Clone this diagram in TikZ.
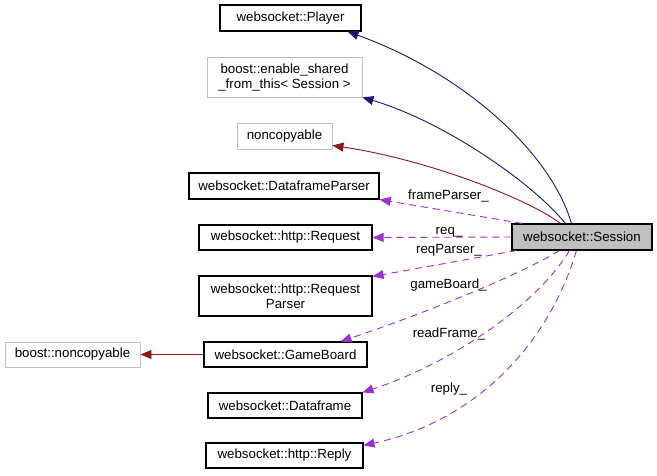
\documentclass[tikz,border=0pt]{standalone}
\usepackage{fontspec}
\setmainfont{Liberation Sans}
\usetikzlibrary{arrows.meta,calc}
\definecolor{inhcol}{HTML}{191970}
\definecolor{privcol}{HTML}{8B1A1A}
\definecolor{usecol}{HTML}{9A32CD}
\definecolor{gborder}{HTML}{BFBFBF}
\definecolor{sessfill}{HTML}{BFBFBF}
\begin{document}
\begin{tikzpicture}[x=1pt,y=-1pt,
  box/.style={draw=black, line width=1.1pt, inner sep=0pt, align=center,
    font=\fontsize{13.3}{15}\selectfont},
  gbox/.style={box, draw=gborder, line width=0.9pt},
  lbl/.style={anchor=base, inner sep=0pt, font=\fontsize{13.3}{15}\selectfont},
  tip/.style={-{Triangle[length=11pt,width=9pt]}},
  inhedge/.style={tip, draw=inhcol, line width=0.9pt},
  privedge/.style={tip, draw=privcol, line width=0.9pt},
  useedge/.style={tip, draw=usecol, line width=0.9pt, dash pattern=on 7pt off 5pt}]
\useasboundingbox[fill=white] (0,0) rectangle (657,475);

\node[box, minimum width=141, minimum height=26] (player) at (290.5,18) {websocket::Player};
\node[gbox, minimum width=155, minimum height=40] (enable) at (284.5,77) {boost::enable\_shared\\\_from\_this< Session >};
\node[gbox, minimum width=95, minimum height=26] (noncopy) at (284.5,136) {noncopyable};
\node[box, minimum width=190, minimum height=26] (dfp) at (284,186) {websocket::DataframeParser};
\node[box, minimum width=173, minimum height=25] (req) at (285.5,237.5) {websocket::http::Request};
\node[box, minimum width=173, minimum height=40] (rp) at (285.5,296) {websocket::http::Request\\Parser};
\node[box, minimum width=163, minimum height=25] (gb) at (285.5,354.5) {websocket::GameBoard};
\node[gbox, minimum width=135, minimum height=25] (bnc) at (72.5,354.5) {boost::noncopyable};
\node[box, minimum width=154, minimum height=25] (df) at (285,405.5) {websocket::Dataframe};
\node[box, minimum width=157, minimum height=25] (reply) at (284.5,455.5) {websocket::http::Reply};
\node[box, fill=sessfill, minimum width=140, minimum height=26] (session) at (582,237) {websocket::Session};

% inheritance
\draw[inhedge] ([xshift=60pt]session.north west) .. controls (550,150) and (460,72) .. ([xshift=-14pt]player.south east);
\draw[inhedge] ([xshift=54pt]session.north west) .. controls (530,180) and (440,120) .. (enable.south east);
\draw[privedge] ([xshift=49pt]session.north west) .. controls (530,200) and (430,160) .. ([yshift=4pt]noncopy.south east);
\draw[privedge] (gb.west) -- (bnc.east);

% usage
\draw[useedge] ([xshift=11pt]session.north west) -- (dfp.south east);
\draw[useedge] (session.west) -- (req.east);
\draw[useedge] ([xshift=5pt]session.south west) -- ([yshift=-1pt]rp.north east);
\draw[useedge] ([xshift=48pt]session.south west) .. controls (520,275) and (420,315) .. ([xshift=-27pt]gb.north east);
\draw[useedge] ([xshift=58pt]session.south west) .. controls (540,300) and (460,360) .. (df.north east);
\draw[useedge] ([xshift=65pt]session.south west) .. controls (550,340) and (480,420) .. ([yshift=-3pt]reply.north east);

\node[lbl] (l1) at (448.5,199) {frameParser\_};
\node[lbl] (l2) at (449,234) {req\_};
\node[lbl] (l3) at (449,253) {reqParser\_};
\node[lbl] (l4) at (448.5,288) {gameBoard\_};
\node[lbl] (l5) at (449,337.5) {readFrame\_};
\node[lbl] (l6) at (449,392) {reply\_};
\end{tikzpicture}
\end{document}
